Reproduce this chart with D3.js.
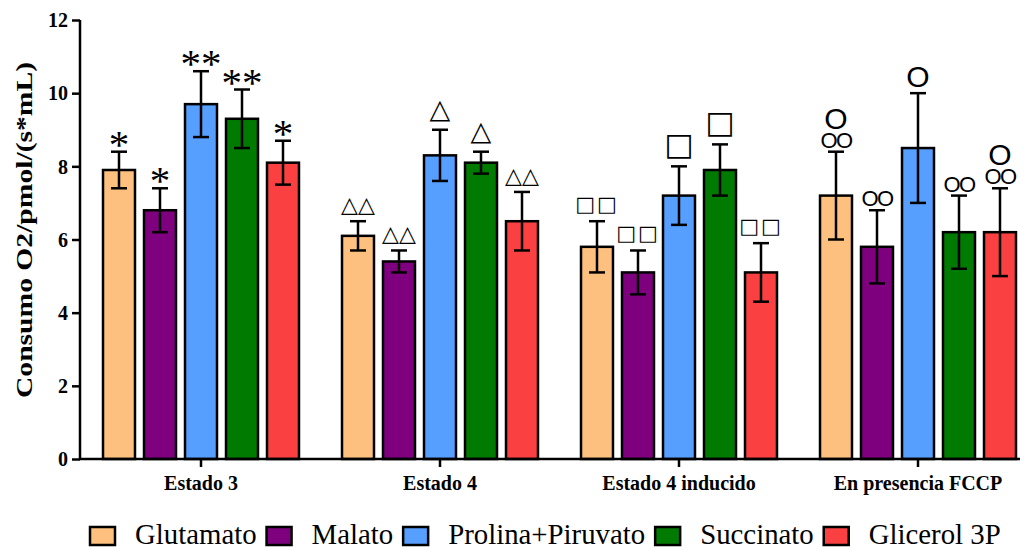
<!DOCTYPE html>
<html>
  <head>
    <meta charset="utf-8">
    <script src="https://d3js.org/d3.v7.min.js"></script>
    <style>
      body { margin: 0; background: #fff; }
      text { fill: #000; }
      .serif { font-family: "Liberation Serif", "Times New Roman", serif; }
    </style>
  </head>
  <body>
    <script type="text/javascript">
      "use strict";

      // data
      var categories = ["Estado 3", "Estado 4", "Estado 4 inducido", "En presencia FCCP"];
      var series = ["Glutamato", "Malato", "Prolina+Piruvato", "Succinato", "Glicerol 3P"];
      var colors = ["#FEC07F", "#7F007F", "#569FFF", "#007A00", "#FA4040"];
      // one array per series, one value per category
      var means = [
        [7.9, 6.1, 5.8, 7.2],
        [6.8, 5.4, 5.1, 5.8],
        [9.7, 8.3, 7.2, 8.5],
        [9.3, 8.1, 7.9, 6.2],
        [8.1, 6.5, 5.1, 6.2]
      ];
      var errors = [
        [0.5, 0.4, 0.7, 1.2],
        [0.6, 0.3, 0.6, 1.0],
        [0.9, 0.7, 0.8, 1.5],
        [0.8, 0.3, 0.7, 1.0],
        [0.6, 0.8, 0.8, 1.2]
      ];
      // significance marks, per category, per series ("|" = two lines)
      var marks = [
        ["*", "*", "**", "**", "*"],
        ["△△", "△△", "△", "△", "△△"],
        ["□□", "□□", "□", "□", "□□"],
        ["O|OO", "OO", "O", "OO", "O|OO"]
      ];
      var yTicks = [0, 2, 4, 6, 8, 10, 12];

      var width = 1025, height = 550;
      var svg = d3.select("body").append("svg")
        .attr("width", width)
        .attr("height", height);

      var y = d3.scaleLinear().domain([0, 12]).range([459, 20]);
      var x0 = d3.scaleBand().domain(categories).range([81.5, 1037.5]);
      var x1 = d3.scaleBand().domain(series).range([-102.5, 102.5])
        .paddingInner(0.22).paddingOuter(0.11);

      var rows = [];
      categories.forEach(function (c, ci) {
        series.forEach(function (s, si) {
          rows.push({cat: c, ser: s, si: si, ci: ci,
                     v: means[si][ci], e: errors[si][ci], m: marks[ci][si]});
        });
      });
      function cx(d) { return x0(d.cat) + x0.bandwidth() / 2 + x1(d.ser) + x1.bandwidth() / 2; }

      // bars
      svg.append("g").selectAll("rect").data(rows).enter().append("rect")
        .attr("x", function (d) { return cx(d) - x1.bandwidth() / 2; })
        .attr("y", function (d) { return y(d.v); })
        .attr("width", x1.bandwidth())
        .attr("height", function (d) { return y(0) - y(d.v); })
        .attr("fill", function (d) { return colors[d.si]; })
        .attr("stroke", "#000")
        .attr("stroke-width", 2.5);

      // error bars
      var eb = svg.append("g").attr("stroke", "#000").attr("stroke-width", 2.5);
      eb.selectAll(".ev").data(rows).enter().append("line")
        .attr("class", "ev")
        .attr("x1", cx).attr("x2", cx)
        .attr("y1", function (d) { return y(d.v - d.e); })
        .attr("y2", function (d) { return y(d.v + d.e); });
      [1, -1].forEach(function (sign, k) {
        eb.selectAll(".cap" + k).data(rows).enter().append("line")
          .attr("class", "cap" + k)
          .attr("x1", function (d) { return cx(d) - 8; })
          .attr("x2", function (d) { return cx(d) + 8; })
          .attr("y1", function (d) { return y(d.v + sign * d.e); })
          .attr("y2", function (d) { return y(d.v + sign * d.e); });
      });

      // significance marks: one text per bar, a tspan per line
      var mk = svg.append("g").attr("text-anchor", "middle");
      rows.forEach(function (d) {
        var top = y(d.v + d.e);
        var lines = d.m.split("|");
        var ch = d.m.charAt(0);
        var el = mk.append("text");
        if (ch === "*") {
          el.attr("class", "serif").style("font-size", "41px")
            .append("tspan").attr("x", cx(d)).attr("y", top + 6).text(d.m);
        } else if (ch === "△") {
          var s1 = d.m.length === 1;
          el.style("font-family", "DejaVu Sans").style("font-size", (s1 ? 27 : 22) + "px")
            .append("tspan").attr("x", cx(d)).attr("y", top - (s1 ? 12 : 9)).text(d.m);
        } else if (ch === "□") {
          var s2 = d.m.length === 1;
          el.style("font-family", "DejaVu Sans").style("font-size", (s2 ? 31 : 21) + "px")
            .style("letter-spacing", (s2 ? 0 : 2) + "px")
            .append("tspan").attr("x", cx(d)).attr("y", top - (s2 ? 11 : 10)).text(d.m);
        } else {
          el.style("font-family", "Liberation Sans");
          var base = top - (lines.length === 1 && lines[0].length === 1 ? 6 : 4);
          lines.reverse().forEach(function (t, i) {
            var one = t.length === 1;
            if (i > 0) base -= 19;
            el.insert("tspan", ":first-child")
              .attr("x", cx(d)).attr("y", base)
              .style("font-size", (one ? 30 : 22) + "px")
              .style("letter-spacing", (one ? 0 : -1.5) + "px")
              .text(t);
          });
        }
      });

      // axes
      var yAxis = svg.append("g").attr("transform", "translate(80,0)")
        .call(d3.axisLeft(y).tickValues(yTicks).tickSize(8).tickPadding(4).tickSizeOuter(0));
      var xAxis = svg.append("g").attr("transform", "translate(0,459)")
        .call(d3.axisBottom(x0).tickSize(8).tickSizeOuter(0));
      [yAxis, xAxis].forEach(function (a) {
        a.selectAll("path, line").attr("stroke", "#000").attr("stroke-width", 2.5);
        a.selectAll("text")
          .attr("class", "serif")
          .style("font-weight", "bold");
        a.attr("font-family", null).attr("font-size", null);
      });
      xAxis.select(".domain").attr("d", "M80,0H1020");
      yAxis.select(".domain").attr("d", "M0,459V20");
      yAxis.selectAll("text").style("font-size", "20px").attr("dy", "0.34em");
      xAxis.selectAll("text").style("font-size", "20px").attr("y", 31).attr("dy", 0);

      // axis title
      svg.append("text")
        .attr("class", "serif")
        .attr("transform", "translate(32,230) rotate(-90)")
        .attr("text-anchor", "middle")
        .attr("textLength", 336)
        .attr("lengthAdjust", "spacingAndGlyphs")
        .style("font-weight", "bold")
        .style("font-size", "23px")
        .text("Consumo O2/pmol/(s*mL)");

      // legend
      var lg = svg.append("g");
      var lx = 90;
      series.forEach(function (s, i) {
        lg.append("rect")
          .attr("x", lx).attr("y", 527).attr("width", 25).attr("height", 18)
          .attr("fill", colors[i]).attr("stroke", "#000").attr("stroke-width", 2.5);
        var t = lg.append("text")
          .attr("class", "serif")
          .attr("x", lx + 45).attr("y", 544)
          .style("font-size", "28.8px")
          .text(s);
        lx = lx + 45 + t.node().getComputedTextLength() + 10;
      });
    </script>
  </body>
</html>
